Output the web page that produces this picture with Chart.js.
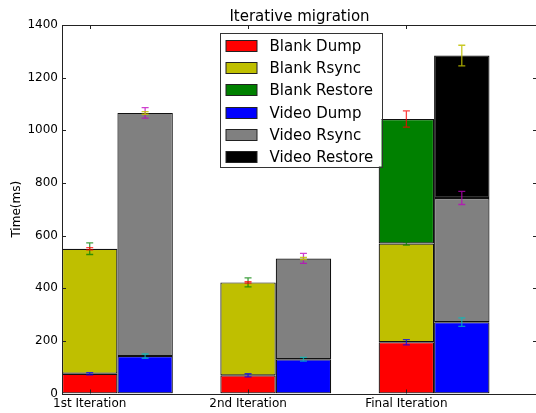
<!DOCTYPE html>
<html>
<head>
<meta charset="utf-8">
<script src="https://cdn.jsdelivr.net/npm/chart.js@4.4.1/dist/chart.umd.min.js"></script>
<style>
    html, body { margin: 0; padding: 0; background: #fff; overflow: hidden; }
    canvas { display: block; }
</style>
</head>
<body>
<canvas id="chart" width="540" height="413"></canvas>
<script>
const iterations = ["1st Iteration", "2nd Iteration", "Final Iteration"];

const blankDump = [75, 69, 195];
const blankRsync = [475, 353, 375];
const blankRestore = [0, 0, 473];
const videoDump = [142, 130, 271];
const videoRsync = [924, 383, 472];
const videoRestore = [0, 0, 541];

// error bars (+/-)
const blankDumpErr = [4, 6, 10];
const blankRsyncErr = [22, 17, 6];
const blankRestoreErr = [4, 3, 31];
const videoDumpErr = [8, 7, 16];
const videoRsyncErr = [20, 19, 25];
const videoRestoreErr = [5, 4, 39];

const yMax = 1400;
const yStep = 200;

const series = [
    { label: "Blank Dump", values: blankDump, err: blankDumpErr, color: "#ff0000", errColor: "rgba(0,0,255,0.75)", stack: "blank" },
    { label: "Blank Rsync", values: blankRsync, err: blankRsyncErr, color: "#bfbf00", errColor: "rgba(0,128,0,0.75)", stack: "blank" },
    { label: "Blank Restore", values: blankRestore, err: blankRestoreErr, color: "#008000", errColor: "rgba(255,0,0,0.75)", stack: "blank" },
    { label: "Video Dump", values: videoDump, err: videoDumpErr, color: "#0000ff", errColor: "rgba(0,191,191,0.75)", stack: "video" },
    { label: "Video Rsync", values: videoRsync, err: videoRsyncErr, color: "#808080", errColor: "rgba(191,0,191,0.75)", stack: "video" },
    { label: "Video Restore", values: videoRestore, err: videoRestoreErr, color: "#000000", errColor: "rgba(191,191,0,0.85)", stack: "video" }
];

Chart.defaults.font.family = "'DejaVu Sans', sans-serif";
Chart.defaults.color = "#000";

const FONT = "'DejaVu Sans', sans-serif";

// frame, inward ticks, error bars, title, legend - matplotlib look
const mplLook = {
    id: "mplLook",
    afterDatasetsDraw(chart) {
        const ctx = chart.ctx;
        const y = chart.scales.y;
        ctx.save();
        ctx.lineWidth = 1.3;
        chart.data.datasets.forEach((ds, d) => {
            const meta = chart.getDatasetMeta(d);
            ctx.strokeStyle = series[d].errColor;
            meta.data.forEach((bar, i) => {
                const e = y.getPixelForValue(0) - y.getPixelForValue(series[d].err[i]);
                ctx.beginPath();
                ctx.moveTo(bar.x, bar.y - e);
                ctx.lineTo(bar.x, bar.y + e);
                ctx.moveTo(bar.x - 3.5, bar.y - e);
                ctx.lineTo(bar.x + 3.5, bar.y - e);
                ctx.moveTo(bar.x - 3.5, bar.y + e);
                ctx.lineTo(bar.x + 3.5, bar.y + e);
                ctx.stroke();
            });
        });
        ctx.restore();
    },
    afterDraw(chart) {
        const ctx = chart.ctx;
        const a = chart.chartArea;
        const x = chart.scales.x;
        const y = chart.scales.y;
        ctx.save();

        // frame
        ctx.strokeStyle = "#222";
        ctx.lineWidth = 1;
        ctx.strokeRect(Math.round(a.left) + 0.5, Math.round(a.top) + 0.5,
            Math.round(a.right - a.left), Math.round(a.bottom - a.top));

        // inward ticks
        ctx.beginPath();
        y.ticks.forEach(t => {
            const py = Math.round(y.getPixelForValue(t.value)) + 0.5;
            ctx.moveTo(a.left, py); ctx.lineTo(a.left + 4, py);
            ctx.moveTo(a.right, py); ctx.lineTo(a.right - 4, py);
        });
        x.ticks.forEach(t => {
            const px = Math.round(x.getPixelForValue(t.value)) + 0.5;
            ctx.moveTo(px, a.bottom); ctx.lineTo(px, a.bottom - 4);
            ctx.moveTo(px, a.top); ctx.lineTo(px, a.top + 4);
        });
        ctx.stroke();

        // title
        ctx.fillStyle = "#000";
        ctx.font = "15px " + FONT;
        ctx.textAlign = "center";
        ctx.textBaseline = "alphabetic";
        ctx.fillText("Iterative migration", (a.left + a.right) / 2, 20.5);

        // legend
        const lx = a.left + 157.5;
        const ly = a.top + 7.5;
        ctx.fillStyle = "#fff";
        ctx.fillRect(lx, ly, 162, 134);
        ctx.strokeStyle = "#333";
        ctx.strokeRect(Math.round(lx) + 0.5, Math.round(ly) + 0.5, 162, 134);
        ctx.font = "15px " + FONT;
        ctx.textAlign = "left";
        chart.data.datasets.forEach((ds, i) => {
            const ry = Math.round(ly + 7.5 + i * 22.2);
            ctx.fillStyle = ds.backgroundColor;
            ctx.fillRect(lx + 6.5, ry + 0.5, 31, 11);
            ctx.strokeStyle = "#222";
            ctx.strokeRect(lx + 6.5, ry + 0.5, 31, 11);
            ctx.fillStyle = "#000";
            ctx.fillText(ds.label, lx + 50, ry + 11);
        });
        ctx.restore();
    }
};

new Chart(document.getElementById("chart"), {
    type: "bar",
    data: {
        datasets: series.map(s => ({
            label: s.label,
            data: s.values.map((v, i) => ({ x: i, y: v })),
            backgroundColor: s.color,
            borderColor: "#111",
            borderWidth: 1.2,
            borderSkipped: false,
            stack: s.stack,
            categoryPercentage: 0.7,
            barPercentage: 1
        }))
    },
    options: {
        responsive: false,
        animation: false,
        layout: { padding: { top: 25, right: 3, left: 0, bottom: 0 } },
        plugins: {
            legend: { display: false },
            tooltip: { enabled: false }
        },
        scales: {
            x: {
                type: "linear",
                stacked: true,
                offset: false,
                min: -0.35,
                max: 2.65,
                grid: { display: false, drawTicks: false },
                border: { display: false },
                afterBuildTicks: scale => {
                    scale.ticks = iterations.map((_, i) => ({ value: i - 0.175 }));
                },
                afterFit: scale => { scale.height = 19.5; },
                ticks: {
                    autoSkip: false,
                    maxRotation: 0,
                    padding: 3,
                    font: { size: 12 },
                    callback: (value, index) => iterations[index]
                }
            },
            y: {
                stacked: true,
                min: 0,
                max: yMax,
                grid: { display: false, drawTicks: false },
                border: { display: false },
                afterFit: scale => { scale.width = 62; },
                ticks: {
                    stepSize: yStep,
                    padding: 4,
                    font: { size: 12 },
                    callback: value => String(value)
                },
                title: {
                    display: true,
                    text: "Time(ms)",
                    font: { size: 12 },
                    padding: { top: 10, bottom: 0 }
                }
            }
        }
    },
    plugins: [mplLook]
});
</script>
</body>
</html>
